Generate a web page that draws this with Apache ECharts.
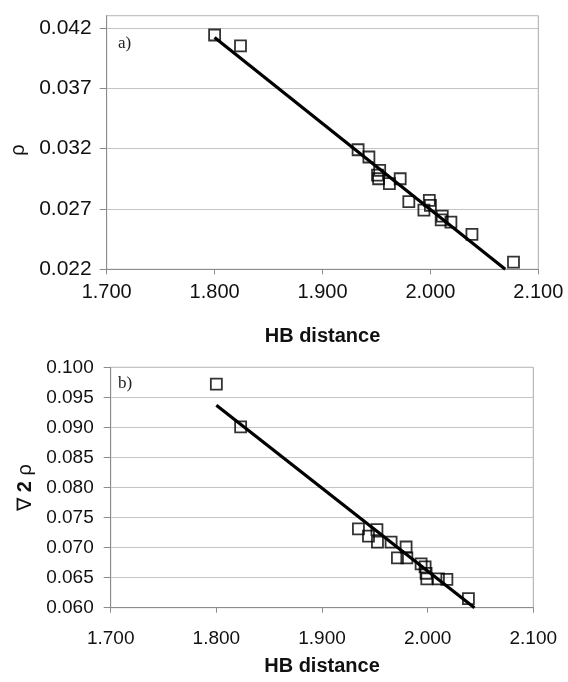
<!DOCTYPE html>
<html>
<head>
<meta charset="utf-8">
<script src="https://cdn.jsdelivr.net/npm/echarts@6/dist/echarts.min.js"></script>
<style>html,body{margin:0;padding:0;background:#fff;}#c{width:568px;height:682px;}</style>
</head>
<body>
<div id="c"></div>
<script>
// Panel a) rho vs HB distance
const rhoX = [1.800, 1.824, 1.933, 1.943, 1.953, 1.951, 1.952, 1.962, 1.972, 1.980, 1.999, 2.000, 1.994, 2.011, 2.010, 2.019, 2.0385, 2.077];
const rhoY = [0.0414, 0.0405, 0.0319, 0.0313, 0.0302, 0.0298, 0.0295, 0.0291, 0.0295, 0.0276, 0.0277, 0.0273, 0.0269, 0.0264, 0.0261, 0.0259, 0.0249, 0.0226];
const rhoTrendX = [1.800, 2.0694];
const rhoTrendY = [0.0412, 0.0220];

// Panel b) laplacian vs HB distance
const lapX = [1.800, 1.823, 1.9345, 1.944, 1.952, 1.9525, 1.9654, 1.9796, 1.9714, 1.9803, 1.9938, 1.9976, 1.9985, 1.9992, 2.0102, 2.0182, 2.0386];
const lapY = [0.0972, 0.0901, 0.0731, 0.0719, 0.0730, 0.0709, 0.0709, 0.0701, 0.0683, 0.0683, 0.0673, 0.0668, 0.0657, 0.0648, 0.0648, 0.0647, 0.0615];
const lapTrendX = [1.800, 2.0443];
const lapTrendY = [0.0937, 0.0600];

const xTicks = {min: 1.7, max: 2.1, step: 0.1};
const rhoTicks = {min: 0.022, max: 0.043, step: 0.005};
const lapTicks = {min: 0.060, max: 0.100, step: 0.005};

const FONT = 'Liberation Sans';
const zip = (a, b) => a.map((v, i) => [v, b[i]]);

function xAxisCfg(gridIndex, fs, margin, gap) {
  return {
    type: 'value', gridIndex, min: xTicks.min, max: xTicks.max, interval: xTicks.step,
    name: 'HB distance', nameLocation: 'middle', nameGap: gap,
    nameTextStyle: {fontFamily: FONT, fontSize: 20, fontWeight: 'bold', color: '#111'},
    axisLine: {show: true, lineStyle: {color: '#8c8c8c', width: 1}},
    axisTick: {show: true, inside: false, length: 5, lineStyle: {color: '#8c8c8c'}},
    axisLabel: {fontFamily: FONT, fontSize: fs, color: '#111', margin, formatter: v => v.toFixed(3)},
    splitLine: {show: false}
  };
}
function yAxisCfg(gridIndex, t, fs, margin, name, gap, rich, pad) {
  return {
    type: 'value', gridIndex, min: t.min, max: t.max, interval: t.step,
    name, nameLocation: 'middle', nameGap: gap,
    nameTextStyle: {fontFamily: FONT, fontSize: 20, color: '#111', rich, padding: pad},
    axisLine: {show: true, lineStyle: {color: '#8c8c8c', width: 1}},
    axisTick: {show: true, inside: false, length: 7, lineStyle: {color: '#8c8c8c'}},
    axisLabel: {fontFamily: FONT, fontSize: fs, color: '#111', margin, showMaxLabel: t.max === 0.100,
      formatter: v => v.toFixed(3)},
    splitLine: {show: true, lineStyle: {color: '#c4c4c4', width: 1}}
  };
}

const chart = echarts.init(document.getElementById('c'), null, {renderer: 'canvas'});
chart.setOption({
  animation: false,
  backgroundColor: '#fff',
  grid: [
    {left: 106.7, right: 29.7, top: 15.7, height: 253.6, show: true, borderColor: '#a8a8a8', borderWidth: 1},
    {left: 110.7, right: 34.7, top: 367.3, height: 240.4, show: true, borderColor: '#a8a8a8', borderWidth: 1}
  ],
  xAxis: [xAxisCfg(0, 20, 13, 57), xAxisCfg(1, 19, 22, 49)],
  yAxis: [
    yAxisCfg(0, rhoTicks, 21, 15, 'ρ', 74, undefined, [0, 15, 0, 0]),
    yAxisCfg(1, lapTicks, 19, 17, '{a|∇} {b|2} {a|ρ}', 74,
      {a: {fontFamily: FONT, fontSize: 20, color: '#111'}, b: {fontFamily: FONT, fontSize: 20, fontWeight: 'bold', color: '#111'}})
  ],
  graphic: [
    {type: 'text', left: 118, top: 35, style: {text: 'a)', font: '17px "Liberation Serif"', fill: '#222'}},
    {type: 'text', left: 118, top: 375, style: {text: 'b)', font: '17px "Liberation Serif"', fill: '#222'}}
  ],
  series: [
    {type: 'scatter', xAxisIndex: 0, yAxisIndex: 0, data: zip(rhoX, rhoY), symbol: 'rect', symbolSize: 11,
      itemStyle: {color: 'transparent', borderColor: '#000', borderWidth: 1.8}, z: 3},
    {type: 'line', xAxisIndex: 0, yAxisIndex: 0, data: zip(rhoTrendX, rhoTrendY), showSymbol: false,
      lineStyle: {color: '#000', width: 3.2}, z: 4},
    {type: 'scatter', xAxisIndex: 1, yAxisIndex: 1, data: zip(lapX, lapY), symbol: 'rect', symbolSize: 11,
      itemStyle: {color: 'transparent', borderColor: '#000', borderWidth: 1.8}, z: 3},
    {type: 'line', xAxisIndex: 1, yAxisIndex: 1, data: zip(lapTrendX, lapTrendY), showSymbol: false,
      lineStyle: {color: '#000', width: 3.2}, z: 4}
  ]
});
</script>
</body>
</html>
